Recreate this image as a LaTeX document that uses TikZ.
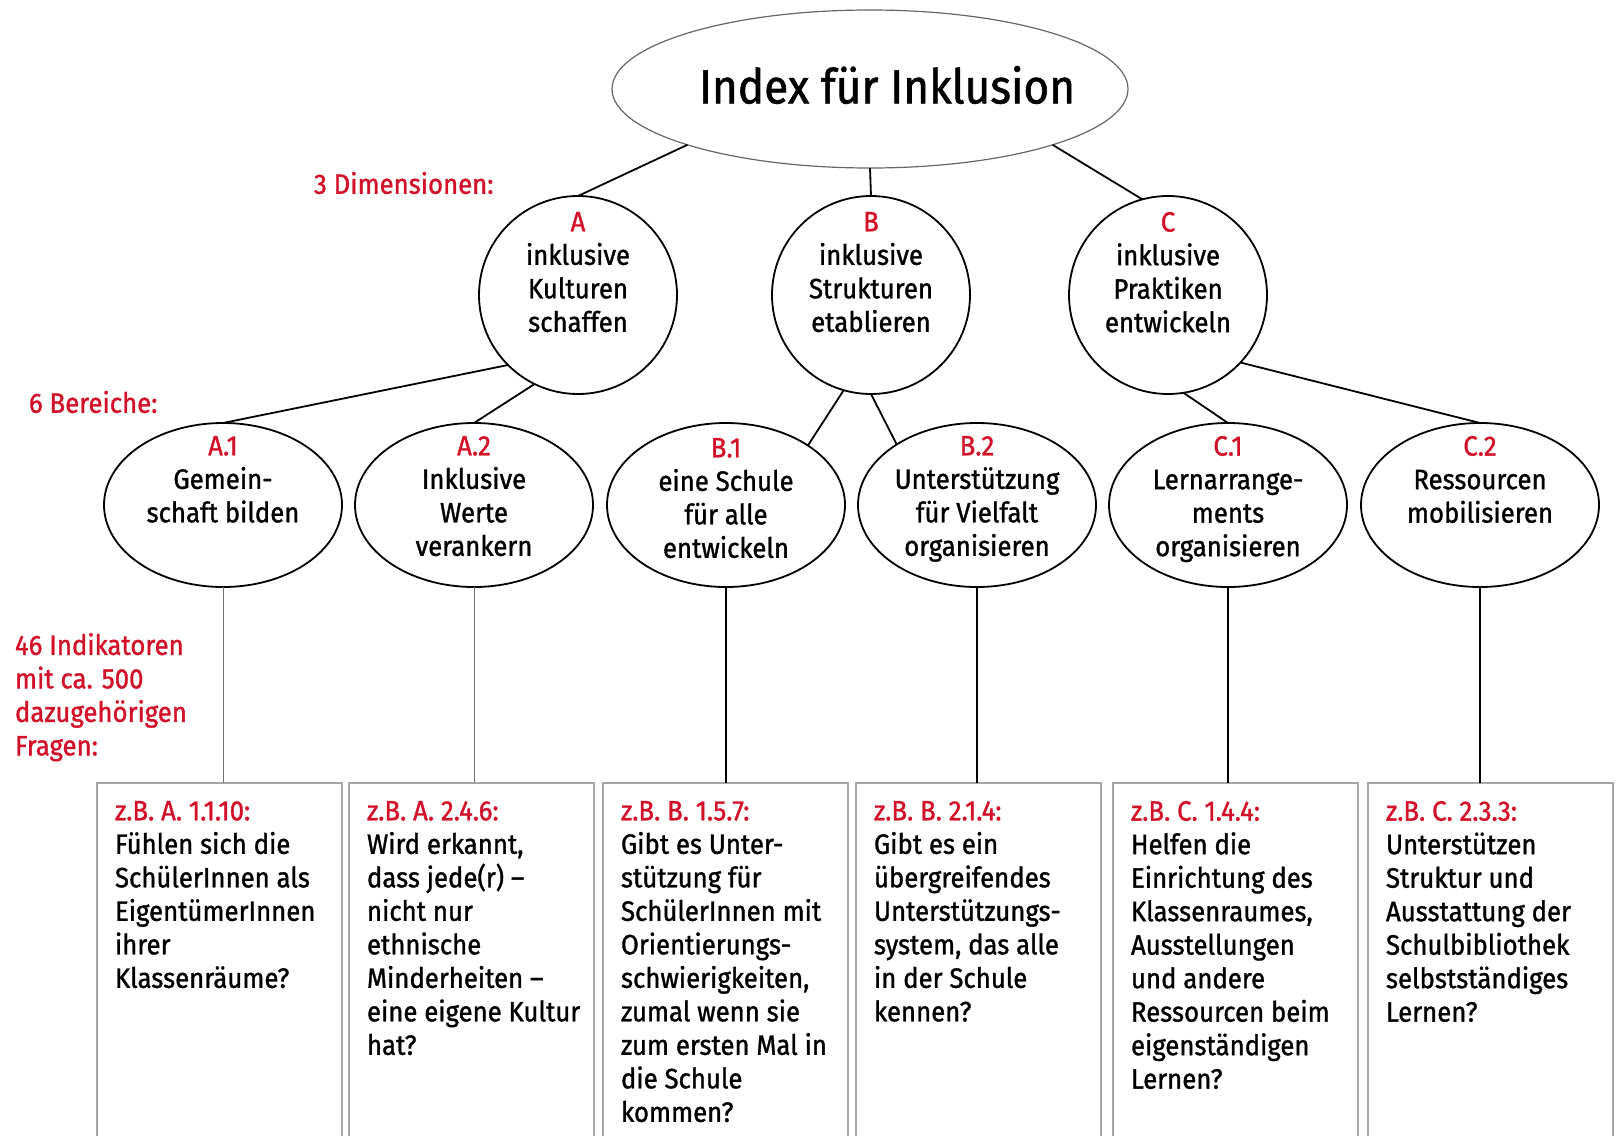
\documentclass[tikz,border=0pt]{standalone}
\usepackage{fontspec}
\setmainfont{Fira Sans}[FakeStretch=0.92,FakeBold=1.2]
\usetikzlibrary{shapes.geometric,positioning}
\definecolor{idxred}{RGB}{210,16,40}

\begin{document}
\begin{tikzpicture}[x=0.5pt,y=-0.5pt,
    every node/.style={inner sep=0pt,outer sep=0pt,font=\fontsize{14}{16.75}\selectfont},
    dim/.style={circle,draw,line width=0.9pt,minimum size=99pt},
    area/.style={ellipse,draw,line width=0.9pt,minimum width=119pt,minimum height=82pt},
    askbox/.style={rectangle,draw=black!35,line width=0.6pt,minimum width=122.5pt,minimum height=200pt,anchor=north west},
    txt/.style={align=center,anchor=north},
    asktxt/.style={align=left,anchor=north west},
    head/.style={color=idxred},
    link/.style={line width=0.9pt},
    thinlink/.style={line width=0.5pt,color=black!55}]
    \useasboundingbox (0,0) rectangle (1616,1135);
    \clip (0,0) rectangle (1616,1135);

    % Index
    \node[ellipse,draw=black!60,line width=0.6pt,minimum width=258pt,minimum height=79pt] (index) at (870,89) {};
    \node[font=\fontsize{24}{28}\selectfont] (title) at (887,85) {Index für Inklusion};

    % 3 Dimensionen
    \node[head,anchor=west] (dims) at (314,183) {3 Dimensionen:};
    \node[dim] (A) at (578,295) {};
    \node[dim] (B) at (871,295) {};
    \node[dim] (C) at (1168,295) {};
    \node[txt,below=8pt of A.north] (At) {\textcolor{idxred}{A}\\inklusive\\Kulturen\\schaffen};
    \node[txt,below=8pt of B.north] (Bt) {\textcolor{idxred}{B}\\inklusive\\Strukturen\\etablieren};
    \node[txt,below=8pt of C.north] (Ct) {\textcolor{idxred}{C}\\inklusive\\Praktiken\\entwickeln};
    \draw[link] (index.197) -- (A.north);
    \draw[link] (index.south) -- (B.north);
    \draw[link] (index.-17) -- (C.105);

    % 6 Bereiche
    \node[head,anchor=west] (areas) at (29,402) {6 Bereiche:};
    \node[area] (a1) at (223,505) {};
    \node[area] (a2) at (474,505) {};
    \node[area] (b1) at (726,505) {};
    \node[area] (b2) at (977,505) {};
    \node[area] (c1) at (1228,505) {};
    \node[area] (c2) at (1480,505) {};
    \node[txt,below=6.5pt of a1.north] (a1t) {\textcolor{idxred}{A.1}\\Gemein-\\schaft bilden};
    \node[txt,below=6.5pt of a2.north] (a2t) {\textcolor{idxred}{A.2}\\Inklusive\\Werte\\verankern};
    \node[txt,below=7.5pt of b1.north] (b1t) {\textcolor{idxred}{B.1}\\eine Schule\\für alle\\entwickeln};
    \node[txt,below=6.5pt of b2.north] (b2t) {\textcolor{idxred}{B.2}\\Unterstützung\\für Vielfalt\\organisieren};
    \node[txt,below=6.5pt of c1.north] (c1t) {\textcolor{idxred}{C.1}\\Lernarrange-\\ments\\organisieren};
    \node[txt,below=6.5pt of c2.north] (c2t) {\textcolor{idxred}{C.2}\\Ressourcen\\mobilisieren};
    \draw[link] (A.225) -- (a1.north);
    \draw[link] (A.244) -- (a2.north);
    \draw[link] (B.254) -- (b1.36);
    \draw[link] (B.270) -- (b2.143);
    \draw[link] (C.279) -- (c1.north);
    \draw[link] (C.-43) -- (c2.north);

    % 46 Indikatoren
    \node[head,asktxt] (inds) at (15,633) {46 Indikatoren\\mit ca. 500\\dazugehörigen\\Fragen:};
    \node[askbox] (q1) at (97,783) {};
    \node[askbox] (q2) at (349,783) {};
    \node[askbox] (q3) at (603,783) {};
    \node[askbox] (q4) at (856,783) {};
    \node[askbox] (q5) at (1113,783) {};
    \node[askbox] (q6) at (1368,783) {};
    \node[asktxt,below right=9pt and 9pt of q1.north west] (q1t) {\textcolor{idxred}{z.B. A. 1.1.10:}\\Fühlen sich die\\SchülerInnen als\\EigentümerInnen\\ihrer\\Klassenräume?};
    \node[asktxt,below right=9pt and 9pt of q2.north west] (q2t) {\textcolor{idxred}{z.B. A. 2.4.6:}\\Wird erkannt,\\dass jede(r) –\\nicht nur\\ethnische\\Minderheiten –\\eine eigene Kultur\\hat?};
    \node[asktxt,below right=9pt and 9pt of q3.north west] (q3t) {\textcolor{idxred}{z.B. B. 1.5.7:}\\Gibt es Unter-\\stützung für\\SchülerInnen mit\\Orientierungs-\\schwierigkeiten,\\zumal wenn sie\\zum ersten Mal in\\die Schule\\kommen?};
    \node[asktxt,below right=9pt and 9pt of q4.north west] (q4t) {\textcolor{idxred}{z.B. B. 2.1.4:}\\Gibt es ein\\übergreifendes\\Unterstützungs-\\system, das alle\\in der Schule\\kennen?};
    \node[asktxt,below right=9pt and 9pt of q5.north west] (q5t) {\textcolor{idxred}{z.B. C. 1.4.4:}\\Helfen die\\Einrichtung des\\Klassenraumes,\\Ausstellungen\\und andere\\Ressourcen beim\\eigenständigen\\Lernen?};
    \node[asktxt,below right=9pt and 9pt of q6.north west] (q6t) {\textcolor{idxred}{z.B. C. 2.3.3:}\\Unterstützen\\Struktur und\\Ausstattung der\\Schulbibliothek\\selbstständiges\\Lernen?};
    \draw[thinlink] (a1.south) -- (a1.south |- q1.north);
    \draw[thinlink] (a2.south) -- (a2.south |- q2.north);
    \draw[link] (b1.south) -- (b1.south |- q3.north);
    \draw[link] (b2.south) -- (b2.south |- q4.north);
    \draw[link] (c1.south) -- (c1.south |- q5.north);
    \draw[link] (c2.south) -- (c2.south |- q6.north);
\end{tikzpicture}
\end{document}
